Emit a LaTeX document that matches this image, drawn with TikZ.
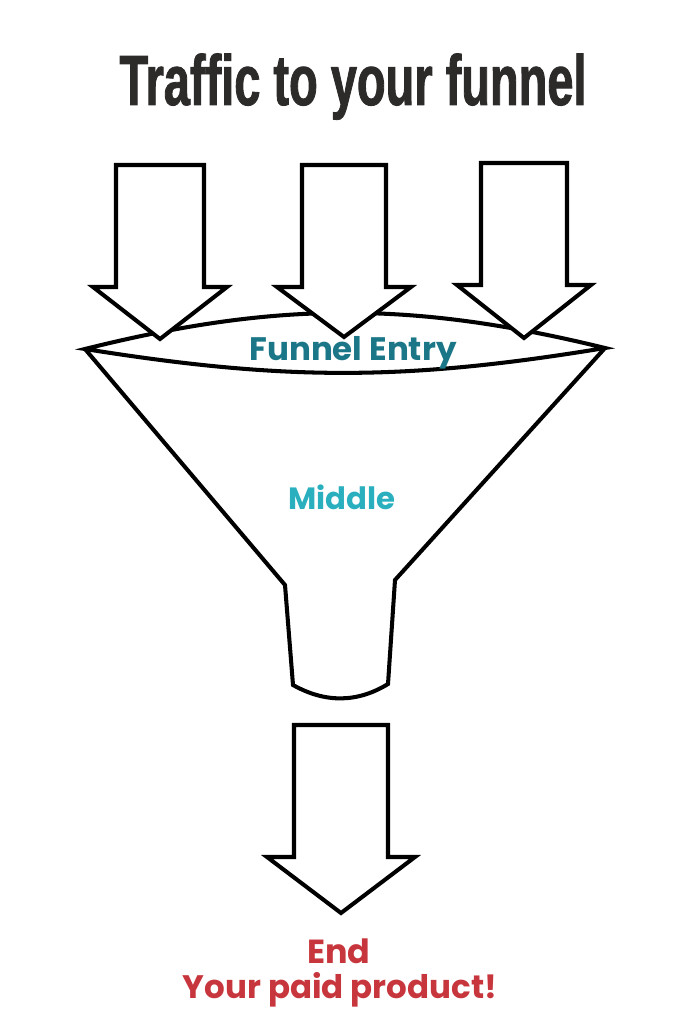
\documentclass[tikz,border=0pt]{standalone}
\usepackage{fontspec}
\setmainfont{Poppins}
\newfontfamily\titlefont[FakeStretch=0.66, FakeBold=1.2]{Liberation Sans Bold}
\definecolor{titlegray}{HTML}{2D2A2A}
\definecolor{entryteal}{HTML}{1B7787}
\definecolor{midteal}{HTML}{2AAFBF}
\definecolor{endred}{HTML}{C8363D}
\tikzset{
  outline/.style={draw=black, line width=2.3pt, line join=miter, miter limit=6},
  label/.style={font=\bfseries, inner sep=0pt}
}
\begin{document}
\begin{tikzpicture}[x=0.02cm, y=-0.02cm]
\useasboundingbox (0,0) rectangle (683,1024);
\node[inner sep=0pt, text=titlegray, font=\titlefont\fontsize{40.5}{42}\selectfont, anchor=base] (title) at (353,105) {Traffic to your funnel};
% funnel body
\draw[outline] (85,349) -- (285,585) -- (293,685) .. controls (325,703) and (357,703) .. (388,684) -- (395,580) -- (605,348);
% funnel entry lens
\draw[outline, fill=white] (85,349) .. controls (277,301) and (413,301) .. (605,348) .. controls (405,381) and (285,381) .. cycle;
% arrows
\foreach \cx/\ytop/\ybase/\ytip/\sw/\hw in {160/165/287/339/44/67, 344/165/287/337/42/67, 524/163/285/338/43/67, 341/725/857/913/47/74}
{
  \draw[outline, fill=white] (\cx-\sw,\ytop) -- (\cx+\sw,\ytop) -- (\cx+\sw,\ybase) -- (\cx+\hw,\ybase) -- (\cx,\ytip) -- (\cx-\hw,\ybase) -- (\cx-\sw,\ybase) -- cycle;
}
\node[label, text=entryteal, font=\bfseries\fontsize{18.5}{20}\selectfont, anchor=base] (entry) at (353,360) {Funnel Entry};
\node[label, text=midteal, font=\bfseries\fontsize{17.5}{19}\selectfont, anchor=base] (middle) at (342,509) {Middle};
\node[label, text=endred, font=\bfseries\fontsize{19}{21}\selectfont, anchor=base] (end) at (339,963) {End};
\node[label, text=endred, font=\bfseries\fontsize{18.5}{21}\selectfont, anchor=base] (product) at (340,998) {Your paid product!};
\end{tikzpicture}
\end{document}
